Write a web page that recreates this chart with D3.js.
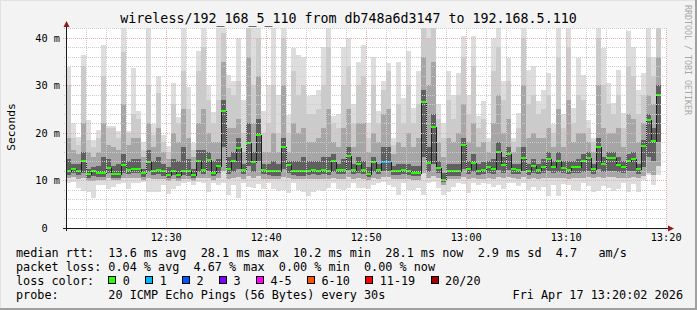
<!DOCTYPE html>
<html><head><meta charset="utf-8">
<script src="https://cdn.jsdelivr.net/npm/d3@7"></script>
<style>
html,body{margin:0;padding:0;background:#f3f3f3;}
svg{display:block;}
text{font-family:"DejaVu Sans Mono",monospace;}
</style></head><body>
<svg id="chart" width="697" height="310"></svg>
<script>
// ---------------- data ----------------
const titleText = "wireless/192_168_5_110 from db748a6d3147 to 192.168.5.110";
const yAxisTitle = "Seconds";
const watermark = "RRDTOOL / TOBI OETIKER";
const yTickValues = [0, 10, 20, 30, 40];
const yTickLabels = ["0\u00a0\u00a0", "10 m", "20 m", "30 m", "40 m"];
const xTickLabels = ["12:30", "12:40", "12:50", "13:00", "13:10", "13:20"];
const dayString = "2026-04-17";
const firstStep = "12:20:00";
const stepSeconds = 30;
const viewStart = "12:20:02";
const viewEnd = "13:20:02";

const medianRtt = [
 12.1,12.5,12.1,14.2,11.4,12.1,11.6,11.6,12.7,11.4,
 11.4,13.3,12.3,12.5,12.5,11.6,13.8,12.1,12.3,11.9,
 11.2,12.1,11.2,12.1,11.9,11.2,14.0,12.3,14.4,11.6,
 13.1,24.6,12.5,14.2,16.9,12.3,17.8,13.8,19.5,12.3,
 12.1,11.9,11.9,17.0,13.3,12.1,11.9,11.9,12.1,12.3,
 12.1,12.3,12.1,14.0,12.3,12.3,15.2,12.3,13.5,12.3,
 11.4,13.8,12.3,13.8,13.8,12.1,12.1,12.3,12.1,11.6,
 11.6,26.6,13.6,21.3,12.7,10.2,11.9,11.9,11.9,17.5,
 12.5,13.6,12.1,12.3,12.9,12.5,15.9,13.3,15.6,12.5,
 12.3,14.8,12.1,13.1,12.3,12.9,14.6,12.9,14.0,12.7,
 12.3,12.9,12.9,14.0,14.8,12.5,17.1,13.5,14.8,14.8,
 13.3,12.8,14.2,14.6,12.5,17.2,22.8,18.4,28.1
];
const lossCount = [
 0,0,0,0,0,0,0,0,0,0, 0,0,0,0,0,0,0,0,0,0,
 0,0,0,0,0,0,0,0,0,0, 0,0,0,0,0,0,0,0,0,0,
 0,0,0,0,0,0,0,0,0,0, 0,0,0,0,0,0,0,0,0,0,
 0,0,0,1,1,0,0,0,0,0, 0,0,0,0,0,0,0,0,0,0,
 0,0,0,0,0,0,0,0,0,0, 0,0,0,0,0,0,0,0,0,0,
 0,0,0,0,0,0,0,0,0,0, 0,0,0,0,0,0,0,0,0
];
const smokeMax = [
 33.8,22.1,19.1,36.5,22.8,18.6,20.7,38.6,21.4,21.4,
 20.5,42.5,20.4,33.7,24.7,18.2,42.5,21.8,32.1,19.6,
 17.2,30.5,23.3,42.5,29.6,17.9,37.3,42.5,30.2,24.4,
 42.5,42.5,32.3,30.9,40.0,27.0,42.5,42.5,42.5,24.6,
 30.0,42.5,28.0,42.5,23.8,37.9,36.5,36.1,27.7,28.0,
 29.0,38.0,42.5,23.5,24.0,38.0,40.0,26.0,35.0,38.5,
 22.0,36.0,24.7,31.0,34.7,19.0,35.0,27.4,37.3,25.3,
 33.0,42.5,42.5,42.5,26.0,22.0,33.0,28.0,32.6,40.4,
 28.0,40.4,23.5,26.7,19.0,40.0,42.5,31.0,35.8,19.0,
 24.2,42.5,33.3,34.0,26.7,29.1,32.6,21.8,42.5,23.9,
 42.5,25.3,35.8,32.3,22.8,19.0,42.5,37.9,30.5,26.3,
 33.3,24.2,41.4,38.2,29.1,32.6,42.5,36.0,42.5
];
const smokeHi2 = [
 30,19,17.5,34,18.5,17,19,32,21,21,
 19,37,20,24,23,16.5,30,19.5,28.5,18,
 16,26,22,33,25,16.5,33,38,27,22,
 27,41,29.5,28,31,20,42,30,40,20,
 22,30,20,40,20,33,28,30,24,24,
 25,30,38,22,21,30,34,22,30,32,
 19,30,22,29,33,17.5,26,22,30,22,
 26,42,40,42,23,19,27,23,28,36,
 24,34,21,23,18,33,38,27,31,18,
 21,40,26,28,24,25,28,20,36,21,
 38,22,28,27,21,18,40,30,26,24,
 28,21,34,32,24,28,36,32,42
];
const smokeHi3 = [
 19,16.5,15.5,22,16,15,16,22,17.5,17,
 16.5,26,17.5,19,19,15,22,17,21,16,
 14.5,20,18,25,19,15,22,25,20,18,
 18,35,21,21,23,16,36,22,32,16,
 16,20,16,30,16,22,20,21,18,18,
 19,21,25,18,17,21,25,17,22,22,
 16,20,18,24,25,15.5,18,17,20,17,
 19,36,30,35,18,15,19,18,20,26,
 18,22,17,18,16,22,28,20,23,16,
 17,30,19,20,19,19,21,17,25,17,
 27,18,20,20,18,16,30,21,20,20,
 21,17,24,23,18,22,28,26,36
];
const smokeHi4 = [
 14.5,13.5,13.5,16,12.5,12.8,13,15,14.5,13,
 13.5,15.5,14,14.5,14.5,12.5,16.5,14,15,13.5,
 12.8,14.5,14,17,14.5,12.5,16.5,16.5,16,14,
 14.5,27,15,16,19,13.5,22,16,23,13.5,
 13.5,14,13.5,19,14,14,14,15,14,14,
 14,15,15,15.5,13.5,14.5,17,13.5,15,14,
 12.8,15,13.5,17,17,13,13.5,13.5,13.5,13,
 13,29,17,24,14,11.5,13.5,13.5,13.5,19,
 14,15.5,13.5,13.8,14,14.5,18,15,17,13.5,
 13.5,17,13.5,14.5,13.5,14.5,16,14,16,14,
 14,14,14.5,15.5,16,13.5,19,15,16,16,
 15,14,15.5,16,13.5,18.5,24,21,30
];
const smokeLo4 = [
 11.2,11.5,11.2,11.5,10.6,11,10.8,10.8,11.5,10.6,
 10.6,11.5,11.3,11.5,11.5,10.8,11.8,11.2,11.3,11,
 10.5,11.2,10.5,11.2,11,10.5,11.8,11.3,12,10.9,
 11.5,17,11.4,11.8,12.5,11.3,13,11.8,14,11.3,
 11.2,11,11,12.5,11.6,11.2,11,11,11.2,11.3,
 11.2,11.3,11.2,11.8,11.3,11.3,12.3,11.3,11.6,11.3,
 10.7,11.8,11.3,12,12,11.2,11.2,11.3,11.2,10.9,
 10.9,15,11.8,13.5,11.5,9.6,11,11,11,12.5,
 11.4,11.7,11.2,11.3,11.6,11.4,12.3,11.6,12.2,11.4,
 11.3,12,11.2,11.5,11.3,11.5,12,11.6,11.8,11.5,
 11.3,11.6,11.6,11.8,12,11.4,12.5,11.7,12,12,
 11.7,11.5,11.9,12,11.4,12.8,15,14,18
];
const smokeLo = [
 10.5,10.8,10.3,10.5,9.8,9.8,10.2,10.2,10.5,10,
 10,10.5,10.5,10.6,10.6,10.2,10.5,10.3,10.4,10.3,
 9.8,10.3,9.9,10.4,10.3,9.9,10.6,10.5,10.6,10.2,
 10.5,12,10.4,10.6,10.8,10.4,11,10.6,11,10.4,
 10.4,10.3,10.3,10.8,10.5,10.4,10.3,10.3,10.4,10.4,
 10.4,10.4,10.4,10.6,10.4,10.4,10.7,10.4,10.5,10.4,
 10,10.6,10.4,10.8,10.8,10.3,10.3,10.4,10.3,10.2,
 10.2,11.5,10.6,11,10.5,9.1,10.3,10.3,10.3,10.8,
 10.4,10.6,10.3,10.4,10.5,10.4,10.8,10.5,10.7,10.5,
 10.4,10.7,10.3,10.5,10.4,10.5,10.6,10.5,10.6,10.5,
 10.4,10.5,10.5,10.6,10.8,10.5,10.8,10.6,10.7,10.7,
 10.6,10.5,10.6,10.7,10.5,11,11.6,11.2,13
];
const smokeMin = [
 9.5,9.6,8.5,7.7,7.6,6.3,9.0,9.1,8.3,8.6,
 9.2,9.5,8.3,9.4,9.5,9.6,7.5,7.6,7.6,9.0,
 7.2,8.2,8.8,9.4,9.6,9.1,9.6,9.5,7.6,9.5,
 9.0,9.5,7.0,9.1,6.3,9.5,8.6,8.5,9.2,8.3,
 9.4,8.3,7.8,8.0,7.4,9.5,8.0,7.6,6.8,7.6,
 8.0,7.8,8.5,9.4,8.2,8.0,8.5,9.4,8.4,8.5,
 8.2,9.1,9.5,9.6,9.0,8.6,7.0,9.5,8.0,8.0,
 8.4,7.0,9.5,9.6,8.5,7.0,7.5,8.6,9.4,9.2,
 7.4,9.5,9.0,9.4,9.3,8.6,9.0,8.2,9.5,9.4,
 8.9,9.4,8.0,8.6,8.0,8.6,6.7,9.0,6.7,9.3,
 9.0,8.0,7.8,9.4,8.8,7.6,7.7,8.8,8.5,7.7,
 8.3,9.4,7.6,9.2,7.5,10.2,11.2,9.1,11.1
];
const legendLines = [
 "median rtt:  13.6 ms avg  28.1 ms max  10.2 ms min  28.1 ms now  2.9 ms sd  4.7   am/s",
 "packet loss: 0.04 % avg  4.67 % max  0.00 % min  0.00 % now"
];
const lossLegendTitle = "loss color:";
const lossLabels = ["0", "1", "2", "3", "4-5", "6-10", "11-19", "20/20"];
const lossColors = ["#26ff00", "#00b8ff", "#0059ff", "#7e00ff", "#ff00ff", "#ff5500", "#ff0000", "#a10000"];
const probeLine = "probe:       20 ICMP Echo Pings (56 Bytes) every 30s";
const dateLine = "Fri Apr 17 13:20:02 2026";

// ---------------- drawing ----------------
const W = 697, H = 310;
const plot = {left: 66, right: 666, top: 28, bottom: 228};
const svg = d3.select("#chart");
const parse = d3.timeParse("%Y-%m-%d %H:%M:%S");
const parseHM = d3.timeParse("%Y-%m-%d %H:%M");

const x = d3.scaleTime()
  .domain([parse(dayString + " " + viewStart), parse(dayString + " " + viewEnd)])
  .range([plot.left, plot.right]);
const y = d3.scaleLinear().domain([0, 42.1]).range([plot.bottom, plot.top]);

const t0 = parse(dayString + " " + firstStep);
const cols = medianRtt.map((m, k) => {
  const ts = d3.timeSecond.offset(t0, k * stepSeconds);
  const te = d3.timeSecond.offset(t0, (k + 1) * stepSeconds);
  const x0 = Math.max(plot.left, Math.round(x(ts)));
  const x1 = Math.round(x(te));
  return {k, x0, x1, med: m, loss: lossCount[k]};
});

// background + frame
svg.append("rect").attr("width", W).attr("height", H).attr("fill", "#f3f3f3");
svg.append("rect").attr("x", 0).attr("y", 0).attr("width", W).attr("height", 1).attr("fill", "#e2e2e2");
svg.append("rect").attr("x", 0).attr("y", 0).attr("width", 1).attr("height", H).attr("fill", "#e2e2e2");
svg.append("rect").attr("x", 0).attr("y", H - 2).attr("width", W).attr("height", 2).attr("fill", "#a0a0a0");
svg.append("rect").attr("x", W - 2).attr("y", 0).attr("width", 2).attr("height", H).attr("fill", "#a0a0a0");

// plot area
svg.append("rect").attr("x", plot.left).attr("y", plot.top)
  .attr("width", plot.right - plot.left).attr("height", plot.bottom - plot.top).attr("fill", "#ffffff");

svg.append("clipPath").attr("id", "pclip").append("rect")
  .attr("x", plot.left).attr("y", plot.top)
  .attr("width", plot.right - plot.left).attr("height", plot.bottom - plot.top);

const gData = svg.append("g").attr("clip-path", "url(#pclip)").attr("shape-rendering", "crispEdges");

const bands = [
  {lo: smokeMin, hi: smokeMax, color: "#dddddd"},
  {lo: smokeLo, hi: smokeHi2, color: "#cbcbcb"},
  {lo: smokeLo, hi: smokeHi3, color: "#a6a6a6"},
  {lo: smokeLo4, hi: smokeHi4, color: "#606060"}
];
bands.forEach(b => {
  gData.append("g").selectAll("rect").data(cols).join("rect")
    .attr("x", d => d.x0)
    .attr("width", d => d.x1 - d.x0)
    .attr("y", d => Math.round(y(b.hi[d.k])))
    .attr("height", d => Math.max(0, Math.round(y(b.lo[d.k])) - Math.round(y(b.hi[d.k]))))
    .attr("fill", b.color);
});

// grid
const gGrid = svg.append("g").attr("shape-rendering", "crispEdges").attr("fill", "none");
const minorY = d3.range(2, 42.1, 2).filter(v => v % 10 !== 0);
const majorY = yTickValues.filter(v => v > 0);
gGrid.selectAll("line.my").data(minorY).join("line")
  .attr("x1", plot.left - 2).attr("x2", plot.right)
  .attr("y1", d => Math.round(y(d)) + 0.5).attr("y2", d => Math.round(y(d)) + 0.5)
  .attr("stroke", "#cccccc").attr("stroke-dasharray", "1,1");
const xStart = parse(dayString + " " + firstStep);
const minorX = d3.timeMinute.every(2).range(d3.timeMinute.offset(xStart, 2), x.domain()[1])
  .filter(d => d.getMinutes() % 10 !== 0);
const majorX = xTickLabels.map(l => parseHM(dayString + " " + l));
gGrid.selectAll("line.mx").data(minorX).join("line")
  .attr("y1", plot.top).attr("y2", plot.bottom + 2)
  .attr("x1", d => Math.round(x(d)) + 0.5).attr("x2", d => Math.round(x(d)) + 0.5)
  .attr("stroke", "#cccccc").attr("stroke-dasharray", "1,1");
gGrid.selectAll("line.My").data(majorY).join("line")
  .attr("x1", plot.left - 3).attr("x2", plot.right)
  .attr("y1", d => Math.round(y(d)) + 0.5).attr("y2", d => Math.round(y(d)) + 0.5)
  .attr("stroke", "#e9afaf").attr("stroke-dasharray", "1,1");
gGrid.selectAll("line.Mx").data(majorX).join("line")
  .attr("y1", plot.top).attr("y2", plot.bottom + 3)
  .attr("x1", d => Math.round(x(d)) + 0.5).attr("x2", d => Math.round(x(d)) + 0.5)
  .attr("stroke", "#e9afaf").attr("stroke-dasharray", "1,1");

// median step line + loss-coloured median bars
const stepPts = cols.map(d => [d.x0, Math.round(y(d.med)) + 0.5]);
const last = cols[cols.length - 1];
stepPts.push([last.x1, Math.round(y(last.med)) + 0.5]);
gData.append("path")
  .attr("d", d3.line().curve(d3.curveStepAfter)(stepPts))
  .attr("fill", "none").attr("stroke", "#1e1e1e").attr("stroke-width", 1);
gData.append("g").selectAll("rect").data(cols).join("rect")
  .attr("x", d => d.x0).attr("width", d => d.x1 - d.x0)
  .attr("y", d => Math.round(y(d.med)) - 1).attr("height", 2)
  .attr("fill", d => lossColors[d.loss]);

// axes
const yAxis = d3.axisLeft(y).tickValues(yTickValues)
  .tickFormat((d, i) => yTickLabels[i]).tickSize(0).tickPadding(6);
const gy = svg.append("g").attr("transform", `translate(${plot.left},0)`).call(yAxis);
gy.select(".domain").remove();
gy.selectAll("text").attr("font-family", "DejaVu Sans Mono").attr("font-size", "10.3px")
  .attr("fill", "#000").style("white-space", "pre");

const xAxis = d3.axisBottom(x).tickValues(majorX)
  .tickFormat(d3.timeFormat("%H:%M")).tickSize(0).tickPadding(6);
const gx = svg.append("g").attr("transform", `translate(0,${plot.bottom})`).call(xAxis);
gx.select(".domain").remove();
gx.selectAll("text").attr("font-family", "DejaVu Sans Mono").attr("font-size", "10.3px").attr("fill", "#000");

// axis lines with arrows
svg.append("line").attr("x1", plot.left + 0.5).attr("x2", plot.left + 0.5)
  .attr("y1", plot.bottom + 3).attr("y2", 22).attr("stroke", "#1a1a1a").attr("shape-rendering", "crispEdges");
svg.append("line").attr("x1", plot.left - 3).attr("x2", 669)
  .attr("y1", plot.bottom + 0.5).attr("y2", plot.bottom + 0.5).attr("stroke", "#1a1a1a").attr("shape-rendering", "crispEdges");
svg.append("path").attr("d", `M${plot.left - 2.5},${27} L${plot.left + 3.5},${27} L${plot.left + 0.5},${21} Z`).attr("fill", "#8e1b1b");
svg.append("path").attr("d", `M668,${plot.bottom - 2.5} L668,${plot.bottom + 3.5} L674,${plot.bottom + 0.5} Z`).attr("fill", "#8e1b1b");

// titles
svg.append("text").attr("x", W / 2).attr("y", 23).attr("text-anchor", "middle")
  .attr("font-size", "13.3px").attr("fill", "#000").text(titleText);
svg.append("text").attr("transform", "translate(15,127) rotate(-90)").attr("text-anchor", "middle")
  .attr("font-family", "DejaVu Sans").attr("font-size", "11.3px").attr("fill", "#000").text(yAxisTitle);
svg.append("text").attr("transform", "translate(685,5) rotate(90)").attr("text-anchor", "start")
  .attr("font-size", "8.3px").attr("fill", "#a8a8a8").text(watermark);

// legend
const LF = 11.8, ADV = LF * 0.6021;
const legendY = [257, 270.5, 285, 298.5];
legendLines.forEach((s, i) => {
  svg.append("text").attr("x", 16).attr("y", legendY[i]).attr("font-size", LF + "px")
    .attr("fill", "#000").attr("xml:space", "preserve").style("white-space", "pre").text(s);
});
svg.append("text").attr("x", 16).attr("y", legendY[2]).attr("font-size", LF + "px")
  .attr("fill", "#000").text(lossLegendTitle);
let cursor = 16 + 13 * ADV;
lossLabels.forEach((lab, i) => {
  svg.append("rect").attr("x", Math.round(cursor) + 0.5).attr("y", 276.5).attr("width", 7).attr("height", 7)
    .attr("fill", lossColors[i]).attr("stroke", "#000").attr("stroke-width", 1).attr("shape-rendering", "crispEdges");
  const lx = cursor + 14.4;
  svg.append("text").attr("x", lx).attr("y", legendY[2]).attr("font-size", LF + "px").attr("fill", "#000").text(lab);
  cursor = lx + lab.length * ADV + 15.4;
});
svg.append("text").attr("x", 16).attr("y", legendY[3]).attr("font-size", LF + "px")
  .attr("fill", "#000").attr("xml:space", "preserve").style("white-space", "pre").text(probeLine);
svg.append("text").attr("x", 683).attr("y", legendY[3]).attr("text-anchor", "end").attr("font-size", LF + "px")
  .attr("fill", "#000").text(dateLine);
</script>
</body></html>
